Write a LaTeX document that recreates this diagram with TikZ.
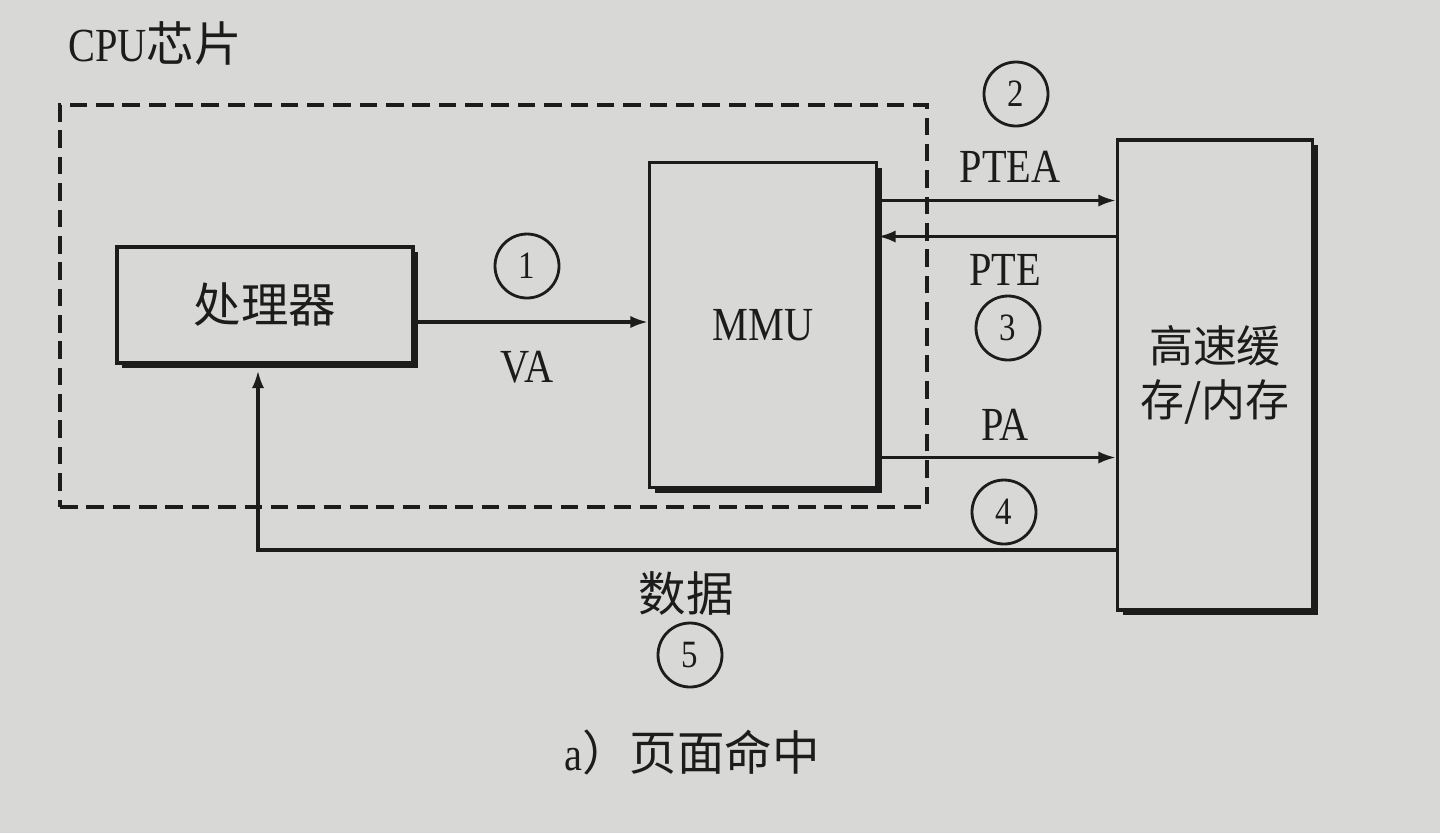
\documentclass[tikz,border=0pt]{standalone}
\usepackage{fontspec}
\setmainfont{Liberation Serif}[FakeStretch=0.85]
\newfontfamily\cjk{Noto Sans CJK SC}
\usepackage{xcolor}
\usepackage{tikz}
\usetikzlibrary{shapes,positioning,shadows,arrows.meta}
\definecolor{paper}{RGB}{216,217,214}
\definecolor{ink}{RGB}{28,28,28}

\begin{document}
\begin{tikzpicture}[%
  box/.style={draw=ink,line width=0.9pt,fill=paper,text=ink,align=center,
    drop shadow={shadow xshift=0.05cm,shadow yshift=-0.05cm,fill=ink,opacity=1},
    font=\fontsize{13.5}{16}\selectfont},
  chip/.style={draw=ink,line width=1.1pt,dash pattern=on 5pt off 2.5pt},
  num/.style={draw=ink,circle,line width=0.8pt,minimum size=0.64cm,inner sep=0pt,
    text=ink,font=\fontsize{11}{12}\selectfont},
  lbl/.style={text=ink,font=\fontsize{13.5}{16}\selectfont},
  arr/.style={draw=ink,line width=0.9pt,-{Latex[length=5pt,width=3.5pt]}}
]
  \fill [paper] (0,0) rectangle (14.4,-8.33);
  \useasboundingbox (0,0) rectangle (14.4,-8.33);

  % chip outline
  \node [chip, minimum width=8.67cm, minimum height=4.02cm] (cpu) at (4.935,-3.06) {};
  \node [lbl, anchor=west] (cpulbl) at (0.56,-0.43) {CPU{\cjk 芯片}};

  % blocks
  \node [box, minimum width=2.96cm, minimum height=1.16cm] (proc) at (2.65,-3.05) {\cjk 处理器};
  \node [box, minimum width=2.27cm, minimum height=3.25cm] (mmu) at (7.63,-3.25) {MMU};
  \node [box, minimum width=1.95cm, minimum height=4.70cm,
    font=\fontsize{12.5}{15.5}\selectfont] (mem) at (12.15,-3.75) {\cjk 高速缓\\\cjk 存/内存};

  % connectors
  \coordinate (vaout) at ([yshift=-0.17cm]proc.east);
  \coordinate (pteaout) at ([yshift=1.245cm]mmu.east);
  \coordinate (pteout) at ([yshift=0.885cm]mmu.east);
  \coordinate (paout) at ([yshift=-1.325cm]mmu.east);
  \coordinate (dataout) at (mem.west |- 0,-5.5);
  \coordinate (datain) at ([xshift=-0.07cm,yshift=-0.06cm]proc.south);

  \draw [arr] (vaout) -- (vaout -| mmu.west);
  \draw [arr] (pteaout) -- (pteaout -| mem.west);
  \draw [arr] (pteout -| mem.west) -- (pteout);
  \draw [arr] (paout) -- (paout -| mem.west);
  \draw [arr] (dataout) -| (datain);

  % step labels
  \node [num] (n1) at (5.27,-2.66) {1};
  \node [lbl] (lva) at (5.27,-3.67) {VA};
  \node [num] (n2) at (10.16,-0.94) {2};
  \node [lbl] (lptea) at (10.10,-1.67) {PTEA};
  \node [lbl] (lpte) at (10.05,-2.70) {PTE};
  \node [num] (n3) at (10.08,-3.28) {3};
  \node [lbl] (lpa) at (10.05,-4.25) {PA};
  \node [num] (n4) at (10.04,-5.12) {4};
  \node [lbl] (ldata) at (6.86,-5.93) {\cjk 数据};
  \node [num] (n5) at (6.90,-6.55) {5};

  \node [lbl] (caption) at (6.92,-7.52) {a{\cjk ）页面命中}};
\end{tikzpicture}
\end{document}
